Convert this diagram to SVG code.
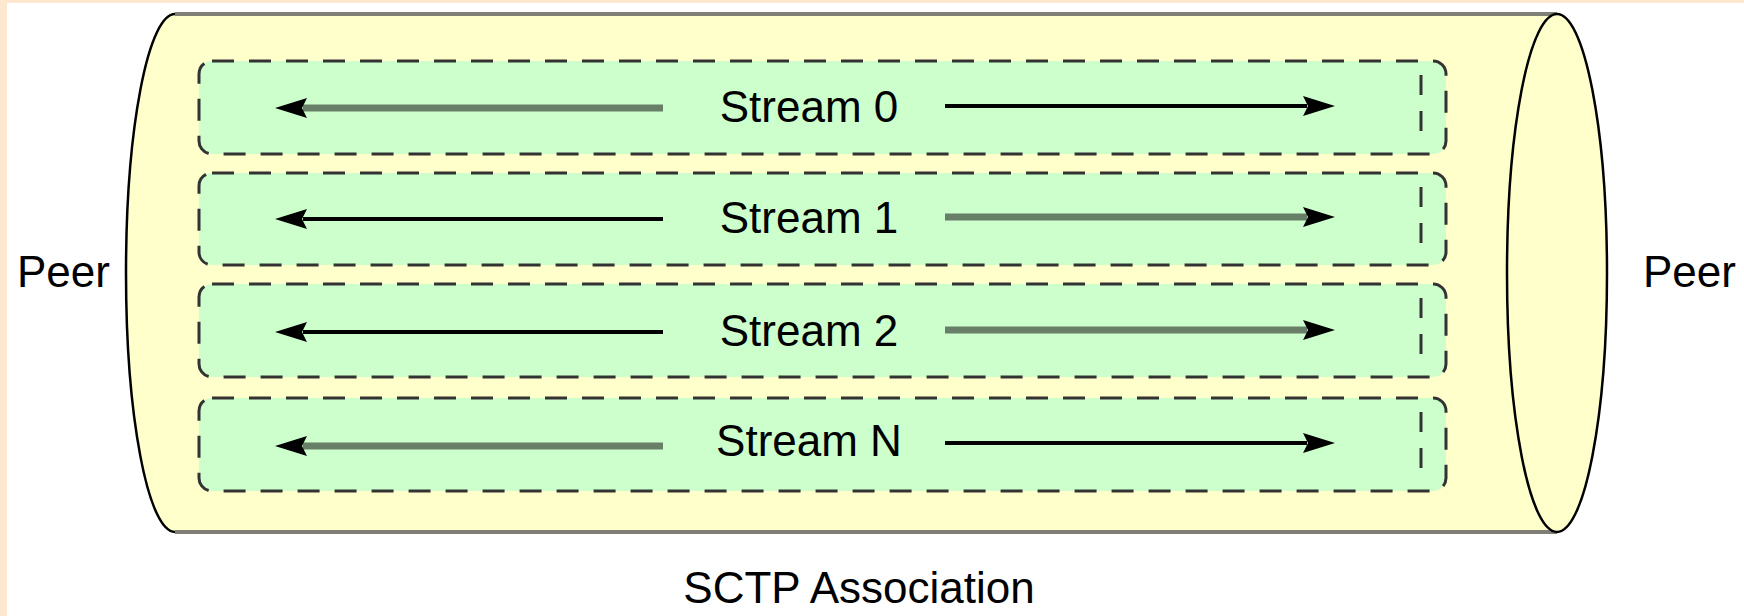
<svg xmlns="http://www.w3.org/2000/svg" width="1744" height="616" viewBox="0 0 1744 616">
<style>
.txt{font-family:"Liberation Sans",Arial,sans-serif;font-size:44px;fill:#000}
.box{fill:#CCFFCC;stroke:#333333;stroke-width:3;stroke-dasharray:22 15}
.inner{fill:none;stroke:#333333;stroke-width:3;stroke-dasharray:20 16}
.thin{stroke:#000;stroke-width:4;fill:none;marker-end:url(#ah)}
.thick{stroke:#677F67;stroke-width:7;fill:none;marker-end:url(#ah)}
</style>
<defs>
<marker id="ah" markerUnits="userSpaceOnUse" markerWidth="40" markerHeight="30" refX="0" refY="0" orient="auto" overflow="visible">
<path d="M-4,-10 L28,0 L-4,10 L1,0 Z" fill="#000"/>
</marker>
</defs>
<rect x="0" y="0" width="1744" height="616" fill="#FFFFFF"/>
<rect x="0" y="0" width="7" height="616" fill="#FDE7CE"/>
<rect x="0" y="0" width="1744" height="3" fill="#FDE7CE"/>
<g id="cylinder">
<path d="M175,14 H1557 V532 H175 A49,259 0 0 1 175,14 Z" fill="#FFFFCC"/>
<path d="M175,14 H1557 M175,532 H1557" stroke="#7F7F77" stroke-width="4" fill="none"/>
<path d="M175,532 A49,259 0 0 1 175,14" stroke="#000" stroke-width="2.5" fill="none"/>
<ellipse cx="1557" cy="273" rx="50" ry="259" fill="#FFFFCC" stroke="#000" stroke-width="2.5"/>
</g>
<g id="stream0">
<rect class="box" x="199" y="61" width="1247" height="93" rx="13"/>
<line class="inner" x1="1421" y1="75" x2="1421" y2="133"/>
<text class="txt" x="809" y="122" text-anchor="middle">Stream 0</text>
</g>
<g id="stream1">
<rect class="box" x="199" y="173" width="1247" height="92" rx="13"/>
<line class="inner" x1="1421" y1="187" x2="1421" y2="244"/>
<text class="txt" x="809" y="233" text-anchor="middle">Stream 1</text>
</g>
<g id="stream2">
<rect class="box" x="199" y="284" width="1247" height="93" rx="13"/>
<line class="inner" x1="1421" y1="298" x2="1421" y2="356"/>
<text class="txt" x="809" y="346" text-anchor="middle">Stream 2</text>
</g>
<g id="streamN">
<rect class="box" x="199" y="398" width="1247" height="93" rx="13"/>
<line class="inner" x1="1421" y1="412" x2="1421" y2="470"/>
<text class="txt" x="809" y="456" text-anchor="middle">Stream N</text>
</g>
<g id="connectors">
<line class="thick" x1="663" y1="108" x2="303" y2="108"/>
<line class="thin" x1="945" y1="106" x2="1307" y2="106"/>
<line class="thin" x1="663" y1="219" x2="303" y2="219"/>
<line class="thick" x1="945" y1="217" x2="1307" y2="217"/>
<line class="thin" x1="663" y1="332" x2="303" y2="332"/>
<line class="thick" x1="945" y1="330" x2="1307" y2="330"/>
<line class="thick" x1="663" y1="446" x2="303" y2="446"/>
<line class="thin" x1="945" y1="443" x2="1307" y2="443"/>
</g>
<g id="labels">
<text class="txt" x="17" y="287">Peer</text>
<text class="txt" x="1643" y="287">Peer</text>
<text class="txt" x="859" y="603" text-anchor="middle">SCTP Association</text>
</g>
</svg>
